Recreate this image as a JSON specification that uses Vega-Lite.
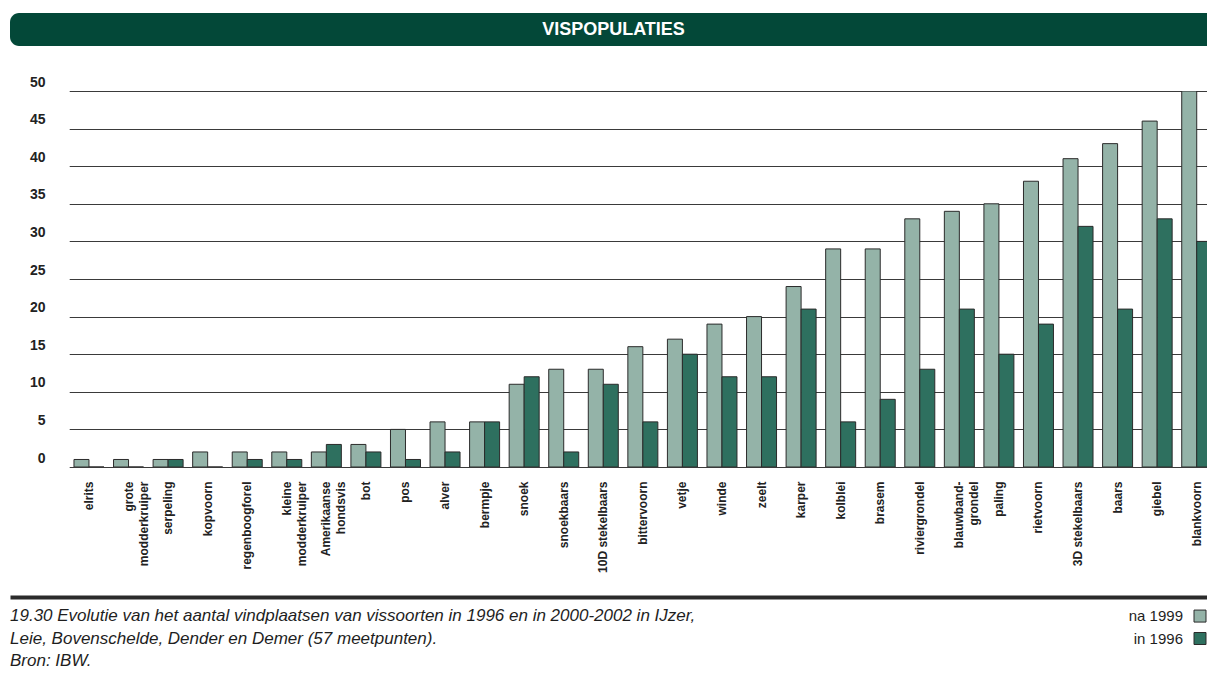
{
  "$schema": "https://vega.github.io/schema/vega-lite/v6.json",
  "padding": {"left": 10, "top": 13, "right": 0, "bottom": 0},
  "background": "white",
  "config": {
    "view": {"stroke": null},
    "font": "Liberation Sans"
  },
  "datasets": {
    "vissen": [
      {"soort": "elrits", "reeks": "na 1999", "aantal": 1}, {"soort": "elrits", "reeks": "in 1996", "aantal": 0},
      {"soort": "grote\nmodderkruiper", "reeks": "na 1999", "aantal": 1}, {"soort": "grote\nmodderkruiper", "reeks": "in 1996", "aantal": 0},
      {"soort": "serpeling", "reeks": "na 1999", "aantal": 1}, {"soort": "serpeling", "reeks": "in 1996", "aantal": 1},
      {"soort": "kopvoorn", "reeks": "na 1999", "aantal": 2}, {"soort": "kopvoorn", "reeks": "in 1996", "aantal": 0},
      {"soort": "regenboogforel", "reeks": "na 1999", "aantal": 2}, {"soort": "regenboogforel", "reeks": "in 1996", "aantal": 1},
      {"soort": "kleine\nmodderkruiper", "reeks": "na 1999", "aantal": 2}, {"soort": "kleine\nmodderkruiper", "reeks": "in 1996", "aantal": 1},
      {"soort": "Amerikaanse\nhondsvis", "reeks": "na 1999", "aantal": 2}, {"soort": "Amerikaanse\nhondsvis", "reeks": "in 1996", "aantal": 3},
      {"soort": "bot", "reeks": "na 1999", "aantal": 3}, {"soort": "bot", "reeks": "in 1996", "aantal": 2},
      {"soort": "pos", "reeks": "na 1999", "aantal": 5}, {"soort": "pos", "reeks": "in 1996", "aantal": 1},
      {"soort": "alver", "reeks": "na 1999", "aantal": 6}, {"soort": "alver", "reeks": "in 1996", "aantal": 2},
      {"soort": "bermpje", "reeks": "na 1999", "aantal": 6}, {"soort": "bermpje", "reeks": "in 1996", "aantal": 6},
      {"soort": "snoek", "reeks": "na 1999", "aantal": 11}, {"soort": "snoek", "reeks": "in 1996", "aantal": 12},
      {"soort": "snoekbaars", "reeks": "na 1999", "aantal": 13}, {"soort": "snoekbaars", "reeks": "in 1996", "aantal": 2},
      {"soort": "10D stekelbaars", "reeks": "na 1999", "aantal": 13}, {"soort": "10D stekelbaars", "reeks": "in 1996", "aantal": 11},
      {"soort": "bittervoorn", "reeks": "na 1999", "aantal": 16}, {"soort": "bittervoorn", "reeks": "in 1996", "aantal": 6},
      {"soort": "vetje", "reeks": "na 1999", "aantal": 17}, {"soort": "vetje", "reeks": "in 1996", "aantal": 15},
      {"soort": "winde", "reeks": "na 1999", "aantal": 19}, {"soort": "winde", "reeks": "in 1996", "aantal": 12},
      {"soort": "zeelt", "reeks": "na 1999", "aantal": 20}, {"soort": "zeelt", "reeks": "in 1996", "aantal": 12},
      {"soort": "karper", "reeks": "na 1999", "aantal": 24}, {"soort": "karper", "reeks": "in 1996", "aantal": 21},
      {"soort": "kolblei", "reeks": "na 1999", "aantal": 29}, {"soort": "kolblei", "reeks": "in 1996", "aantal": 6},
      {"soort": "brasem", "reeks": "na 1999", "aantal": 29}, {"soort": "brasem", "reeks": "in 1996", "aantal": 9},
      {"soort": "riviergrondel", "reeks": "na 1999", "aantal": 33}, {"soort": "riviergrondel", "reeks": "in 1996", "aantal": 13},
      {"soort": "blauwband-\ngrondel", "reeks": "na 1999", "aantal": 34}, {"soort": "blauwband-\ngrondel", "reeks": "in 1996", "aantal": 21},
      {"soort": "paling", "reeks": "na 1999", "aantal": 35}, {"soort": "paling", "reeks": "in 1996", "aantal": 15},
      {"soort": "rietvoorn", "reeks": "na 1999", "aantal": 38}, {"soort": "rietvoorn", "reeks": "in 1996", "aantal": 19},
      {"soort": "3D stekelbaars", "reeks": "na 1999", "aantal": 41}, {"soort": "3D stekelbaars", "reeks": "in 1996", "aantal": 32},
      {"soort": "baars", "reeks": "na 1999", "aantal": 43}, {"soort": "baars", "reeks": "in 1996", "aantal": 21},
      {"soort": "giebel", "reeks": "na 1999", "aantal": 46}, {"soort": "giebel", "reeks": "in 1996", "aantal": 33},
      {"soort": "blankvoorn", "reeks": "na 1999", "aantal": 50}, {"soort": "blankvoorn", "reeks": "in 1996", "aantal": 30}
    ]
  },
  "spacing": 29,
  "vconcat": [
    {
      "width": 1197,
      "height": 33,
      "data": {"values": [{"kop": "VISPOPULATIES"}]},
      "layer": [
        {
          "mark": {"type": "rect", "color": "#034838", "cornerRadiusTopLeft": 9, "cornerRadiusBottomLeft": 9},
          "encoding": {}
        },
        {
          "mark": {"type": "text", "color": "white", "font": "Liberation Sans", "fontWeight": "bold", "fontSize": 18, "baseline": "middle", "align": "center", "dx": 5},
          "encoding": {"text": {"field": "kop"}}
        }
      ]
    },
    {
      "spacing": 24,
      "vconcat": [
        {
          "width": 1197,
          "height": 376,
          "data": {"name": "vissen"},
          "mark": {"type": "bar", "stroke": "#2b2b2b", "strokeWidth": 1, "clip": true},
          "encoding": {
            "x": {
              "field": "soort", "type": "nominal", "sort": null,
              "scale": {"range": [59.2, 1206.5], "paddingInner": 0, "paddingOuter": 0},
              "axis": {
                "title": null, "labelAngle": 270, "labelAlign": "right", "labelBaseline": "middle",
                "labelPadding": 14, "ticks": false, "domain": false,
                "labelFont": "Liberation Sans", "labelFontWeight": "bold", "labelFontSize": 12,
                "labelColor": "#222222", "labelLineHeight": 15, "labelLimit": 300,
                "labelOverlap": false, "labelBound": false,
                "labelExpr": "split(datum.label, '\\n')"
              }
            },
            "xOffset": {
              "field": "reeks", "sort": ["na 1999", "in 1996"],
              "scale": {"paddingInner": 0, "paddingOuter": 0.319}
            },
            "y": {
              "field": "aantal", "type": "quantitative",
              "scale": {"domain": [0, 50], "nice": false},
              "axis": {
                "title": null, "values": [0, 5, 10, 15, 20, 25, 30, 35, 40, 45, 50],
                "grid": true, "gridColor": "#3a3a3a", "gridWidth": 1.2,
                "domain": false, "ticks": false, "tickSize": 0,
                "labelPadding": -35, "labelAlign": "right", "labelBaseline": "alphabetic", "labelOffset": -5,
                "labelFont": "Liberation Sans", "labelFontWeight": "bold", "labelFontSize": 14, "labelColor": "#222222"
              }
            },
            "color": {
              "field": "reeks", "type": "nominal",
              "scale": {"domain": ["na 1999", "in 1996"], "range": ["#94b3a8", "#2e705f"]},
              "legend": null
            }
          }
        },
        {
          "width": 1197,
          "height": 83,
          "layer": [
            {
              "data": {"values": [
                {"regel": 1, "tekst": "19.30  Evolutie van het aantal vindplaatsen van vissoorten in 1996 en in 2000-2002 in IJzer,"},
                {"regel": 2, "tekst": "Leie, Bovenschelde, Dender en Demer (57 meetpunten)."},
                {"regel": 3, "tekst": "Bron: IBW."}
              ]},
              "mark": {"type": "text", "align": "left", "baseline": "middle", "font": "Liberation Sans", "fontStyle": "italic", "fontSize": 17, "color": "#1e1e1e"},
              "encoding": {
                "x": {
                  "datum": 0, "type": "quantitative",
                  "scale": {"domain": [0, 1], "nice": false, "zero": false},
                  "axis": {"orient": "top", "title": null, "labels": false, "ticks": false, "grid": false, "domain": true, "domainWidth": 4, "domainColor": "#2b2b2b"}
                },
                "y": {"field": "regel", "type": "ordinal", "scale": {"type": "point", "padding": 0.85}, "axis": null},
                "text": {"field": "tekst"}
              }
            },
            {
              "data": {"values": [{"regel": 1, "reeks": "na 1999"}, {"regel": 2, "reeks": "in 1996"}]},
              "mark": {"type": "text", "align": "right", "baseline": "middle", "dx": -24, "font": "Liberation Sans", "fontSize": 15, "color": "#1e1e1e"},
              "encoding": {
                "x": {"datum": 1, "type": "quantitative"},
                "y": {"field": "regel", "type": "ordinal"},
                "text": {"field": "reeks"}
              }
            },
            {
              "data": {"values": [{"regel": 1, "reeks": "na 1999"}, {"regel": 2, "reeks": "in 1996"}]},
              "mark": {"type": "square", "size": 144, "filled": true, "opacity": 1, "stroke": "#2b2b2b", "strokeWidth": 1, "xOffset": -7},
              "encoding": {
                "x": {"datum": 1, "type": "quantitative"},
                "y": {"field": "regel", "type": "ordinal"},
                "color": {"field": "reeks", "type": "nominal", "legend": null}
              }
            }
          ]
        }
      ]
    }
  ]
}
